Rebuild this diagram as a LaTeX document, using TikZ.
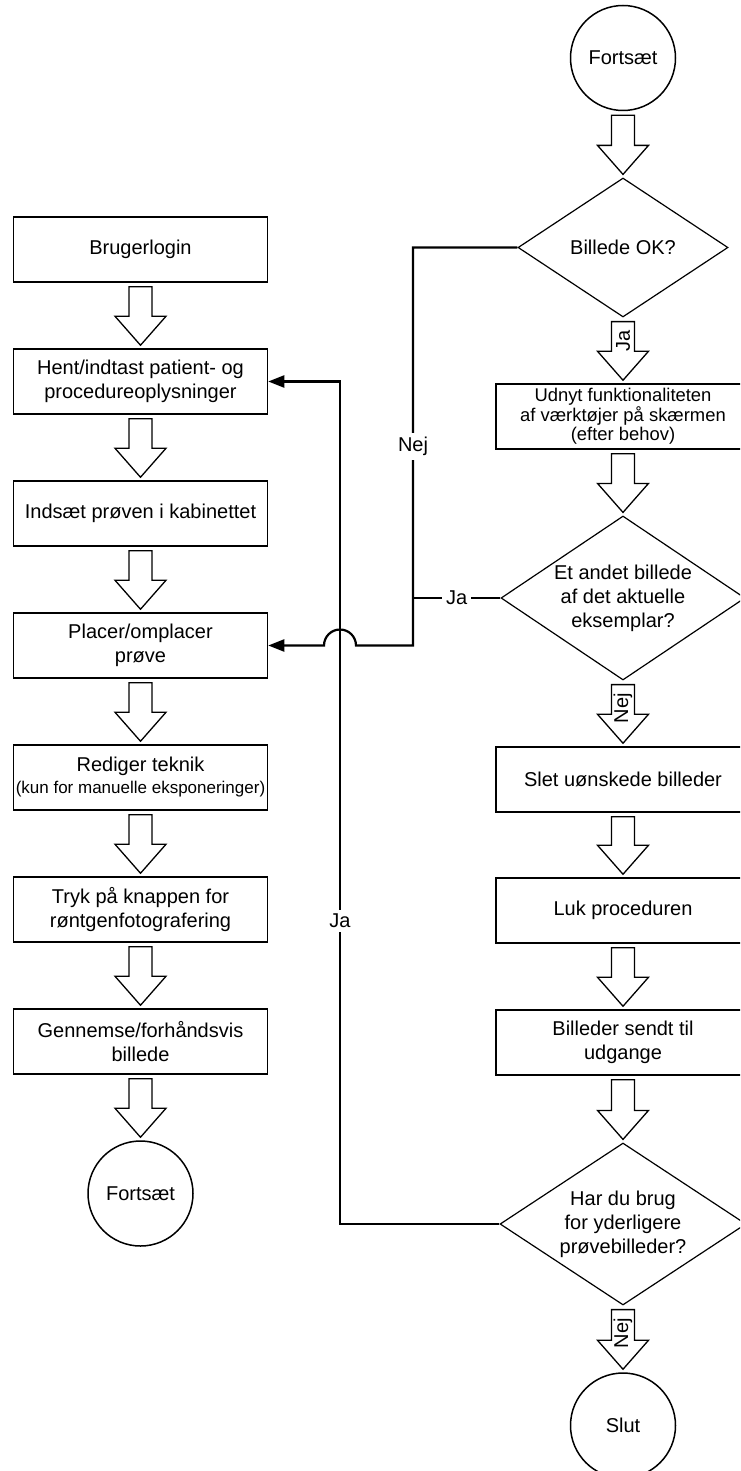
\documentclass[tikz,border=0pt]{standalone}
\usepackage{fontspec}
\setmainfont{Liberation Sans}
\usetikzlibrary{shapes.geometric,calc,arrows.meta}
\tikzset{
 px/.style={x=0.5pt,y=-0.5pt},
 mainfont/.style={font=\fontsize{10}{12}\selectfont},
 box/.style={draw,line width=0.75pt,minimum width=127pt,minimum height=32.5pt,inner sep=0pt,align=center,mainfont},
 dia/.style={draw,diamond,line width=0.6pt,inner sep=0pt},
 term/.style={draw,circle,line width=0.75pt,minimum size=52.5pt,inner sep=0pt,mainfont},
 txt/.style={align=center,inner sep=0pt,mainfont},
 barr/.style={draw,line width=0.65pt,line join=miter,fill=white},
 conn/.style={line width=1.1pt},
 lbl/.style={fill=white,inner sep=2pt,mainfont},
 albl/.style={rotate=90,anchor=east,inner sep=0pt,mainfont},
 tip/.style={-{Triangle[length=8pt,width=6pt]}}
}
\newcommand{\blockarr}[3][]{%
 \path ($(#2.south)+(0,4)$) coordinate (ba) ($(#3.north)+(0,-3)$) coordinate (bt);
 \coordinate (bh) at ($(bt)+(0,-29)$);
 \draw[barr] ($(ba)+(-11.5,0)$) -- ($(bh)+(-11.5,0)$) -- ($(bh)+(-25.5,0)$) -- (bt) -- ($(bh)+(25.5,0)$) -- ($(bh)+(11.5,0)$) -- ($(ba)+(11.5,0)$) -- cycle;
 \if\relax\detokenize{#1}\relax\else\node[albl] at ($(ba)+(0,8)$) {#1};\fi}
\begin{document}
\begin{tikzpicture}[px]
\useasboundingbox (0,0) rectangle (740,1471);
\clip (0,0) rectangle (740,1471);
% left column
\node[box] (login) at (140.5,249.5) {Brugerlogin};
\node[box] (hent) at (140.5,381.5) {Hent/indtast patient- og\\procedureoplysninger};
\node[box] (indsaet) at (140.5,513.5) {Indsæt prøven i kabinettet};
\node[box] (placer) at (140.5,645.5) {Placer/omplacer\\prøve};
\node[box] (rediger) at (140.5,777.5) {Rediger teknik\\[-1pt]{\fontsize{8.5}{10}\selectfont (kun for manuelle eksponeringer)}};
\node[box] (tryk) at (140.5,909.5) {Tryk på knappen for\\røntgenfotografering};
\node[box] (gennemse) at (140.5,1041.5) {Gennemse/forhåndsvis\\billede};
\node[term] (fort1) at (140.5,1193.5) {Fortsæt};
% right column
\node[term] (fort2) at (623,58) {Fortsæt};
\node[dia,minimum width=105pt,minimum height=69.5pt] (bok) at (623,247.5) {};
\node[txt] (boktxt) at (bok) {Billede OK?};
\node[box,font=\fontsize{9.2}{9.7}\selectfont] (udnyt) at (623,416.5) {Udnyt funktionaliteten\\af værktøjer på skærmen\\(efter behov)};
\node[dia,minimum width=122pt,minimum height=82pt] (andet) at (623,598) {};
\node[txt] (andettxt) at (andet) {Et andet billede\\af det aktuelle\\eksemplar?};
\node[box] (slet) at (623,779.5) {Slet uønskede billeder};
\node[box] (luk) at (623,910.5) {Luk proceduren};
\node[box] (sendt) at (623,1042.5) {Billeder sendt til\\udgange};
\node[dia,minimum width=123pt,minimum height=81pt] (har) at (623,1224) {};
\node[txt] (hartxt) at (har) {Har du brug\\for yderligere\\prøvebilleder?};
\node[term] (slut) at (623,1425.5) {Slut};
% block arrows
\blockarr{login}{hent}
\blockarr{hent}{indsaet}
\blockarr{indsaet}{placer}
\blockarr{placer}{rediger}
\blockarr{rediger}{tryk}
\blockarr{tryk}{gennemse}
\blockarr{gennemse}{fort1}
\blockarr{fort2}{bok}
\blockarr[Ja]{bok}{udnyt}
\blockarr{udnyt}{andet}
\blockarr[Nej]{andet}{slet}
\blockarr{slet}{luk}
\blockarr{luk}{sendt}
\blockarr{sendt}{har}
\blockarr[Nej]{har}{slut}
% loop connectors
\coordinate (jx) at (413,0);
\coordinate (kx) at (340,0);
\draw[conn,tip] (bok.west) -- (bok.west -| jx) -- node[lbl]{Nej} (jx |- placer.east) -- ($(placer.east -| kx)+(16,0)$) arc[start angle=0,end angle=-180,radius=16] -- (placer.east);
\draw[conn] (andet.west) -- node[lbl]{Ja} (andet.west -| jx);
\draw[conn,tip] (har.west) -- (har.west -| kx) -- node[lbl,pos=0.36]{Ja} (kx |- hent.east) -- (hent.east);
\end{tikzpicture}
\end{document}
